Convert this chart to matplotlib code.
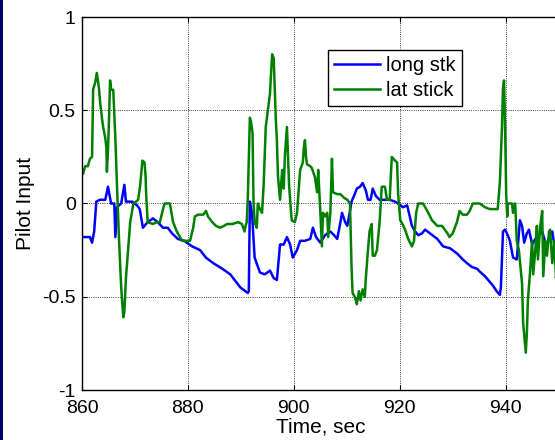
import matplotlib
matplotlib.use('Agg')
import matplotlib.pyplot as plt
from matplotlib.patches import Rectangle

plt.rcParams['font.family'] = ['Liberation Sans', 'DejaVu Sans']

# Longitudinal stick trace
long_t = [860.2, 861.5, 861.9, 862.3, 862.7, 863.4, 864.4, 864.9, 865.5, 866.1,
          866.3, 866.6, 867.4, 868.0, 868.3, 869.5, 870.4, 870.9, 871.5, 872.4,
          873.4, 874.3, 875.3, 876.2, 877.0, 878.1, 879.3, 880.8, 882.3, 883.4,
          884.8, 886.5, 888.0, 889.9, 891.3, 891.5, 891.7, 892.1, 892.6, 893.6,
          894.5, 895.5, 896.2, 896.8, 897.4, 898.1, 898.7, 899.3, 899.8, 900.6,
          901.2, 902.1, 903.1, 903.6, 904.2, 905.0, 905.9, 906.9, 907.6, 908.2,
          908.8, 909.1, 909.7, 910.1, 910.6, 910.9, 911.5, 911.9, 912.5, 913.0,
          913.6, 914.0, 914.5, 914.9, 915.5, 916.2, 917.2, 918.1, 919.1, 919.7,
          920.6, 921.4, 921.9, 922.3, 922.9, 923.5, 924.2, 924.8, 925.7, 927.1,
          928.2, 929.5, 930.9, 931.9, 932.7, 933.6, 934.6, 935.3, 936.1, 937.0,
          937.6, 938.3, 938.9, 939.1, 939.5, 939.9, 940.4, 940.8, 941.4, 942.1,
          942.7, 943.1, 943.5, 944.0, 944.4, 945.0, 945.6, 945.9, 946.5, 946.9,
          947.5, 947.8, 948.2, 948.8, 949.4, 950.0]
long_stk = [-0.18, -0.18, -0.21, -0.15, 0.01, 0.02, 0.02, 0.09, 0.00, 0.00,
            -0.18, -0.02, 0.00, 0.10, 0.01, 0.01, -0.01, -0.03, -0.13, -0.10,
            -0.08, -0.10, -0.13, -0.13, -0.16, -0.19, -0.20, -0.23, -0.25, -0.29,
            -0.32, -0.35, -0.38, -0.45, -0.48, -0.47, 0.01, -0.05, -0.29, -0.37,
            -0.38, -0.36, -0.40, -0.41, -0.22, -0.22, -0.18, -0.22, -0.29, -0.25,
            -0.20, -0.20, -0.19, -0.13, -0.18, -0.21, -0.17, -0.15, -0.17, -0.19,
            -0.10, -0.05, -0.10, -0.12, -0.04, 0.01, 0.05, 0.08, 0.09, 0.11,
            0.07, 0.02, 0.02, 0.08, 0.04, 0.02, 0.02, 0.02, 0.01, 0.00,
            -0.02, -0.01, -0.07, -0.12, -0.15, -0.17, -0.16, -0.14, -0.16, -0.19,
            -0.23, -0.24, -0.27, -0.30, -0.32, -0.34, -0.35, -0.37, -0.39, -0.42,
            -0.44, -0.47, -0.49, -0.45, -0.15, -0.14, -0.17, -0.20, -0.29, -0.30,
            -0.09, -0.12, -0.21, -0.16, -0.14, -0.22, -0.19, -0.20, -0.16, -0.15,
            -0.21, -0.24, -0.18, -0.15, -0.26, -0.22]

# Lateral stick trace
lat_t = [860.2, 860.6, 861.1, 861.5, 861.9, 862.1, 862.5, 862.8, 863.2, 863.4,
         863.8, 864.0, 864.4, 864.6, 864.7, 864.9, 865.1, 865.3, 865.5, 865.9,
         866.3, 866.6, 867.0, 867.4, 867.8, 868.0, 868.3, 868.7, 869.1, 869.7,
         870.2, 870.6, 871.0, 871.4, 871.8, 872.0, 872.1, 872.4, 873.4, 874.1,
         874.7, 875.3, 875.6, 876.6, 877.2, 877.9, 878.9, 879.6, 880.4, 881.0,
         881.3, 881.9, 882.9, 883.4, 883.8, 884.6, 885.3, 886.1, 886.8, 887.4,
         888.4, 889.5, 890.2, 890.7, 890.9, 891.1, 891.3, 891.7, 891.9, 892.2,
         892.4, 892.6, 893.0, 893.2, 893.6, 894.0, 894.3, 894.7, 895.1, 895.5,
         895.9, 896.2, 896.4, 896.6, 896.8, 897.0, 897.4, 897.8, 898.1, 898.3,
         898.7, 898.9, 899.1, 899.3, 899.6, 900.2, 900.6, 901.2, 901.7, 901.9,
         902.1, 902.3, 902.5, 903.1, 903.4, 904.0, 904.4, 904.6, 905.0, 905.3,
         905.5, 905.9, 906.3, 906.5, 906.9, 907.2, 907.4, 908.2, 908.8, 909.5,
         910.1, 910.6, 910.9, 911.1, 911.5, 911.9, 912.3, 912.6, 913.0, 913.4,
         913.6, 914.0, 914.3, 914.7, 914.9, 915.3, 915.7, 916.2, 916.6, 917.2,
         917.6, 918.1, 918.5, 919.1, 919.5, 919.7, 920.1, 920.5, 921.0, 921.6,
         922.3, 922.7, 923.1, 923.5, 924.4, 925.2, 926.1, 927.1, 928.0, 929.0,
         929.4, 930.0, 930.8, 931.3, 931.9, 932.7, 933.2, 933.8, 935.1, 936.1,
         937.0, 938.5, 938.9, 939.3, 939.5, 939.7, 939.9, 940.1, 940.3, 940.4,
         941.2, 941.4, 941.8, 942.1, 942.5, 943.1, 943.3, 943.8, 944.0, 944.2,
         944.6, 945.0, 945.2, 945.6, 945.9, 946.1, 946.5, 946.9, 947.1, 947.5,
         947.8, 948.2, 948.4, 948.8, 949.2, 949.5, 950.0]
lat_stick = [0.16, 0.20, 0.20, 0.24, 0.25, 0.61, 0.65, 0.70, 0.62, 0.55,
             0.45, 0.41, 0.35, 0.30, 0.17, 0.28, 0.45, 0.66, 0.61, 0.61,
             0.35, 0.10, -0.20, -0.45, -0.61, -0.58, -0.40, -0.25, -0.10, 0.00,
             0.01, 0.02, 0.10, 0.23, 0.22, 0.15, 0.06, -0.10, -0.11, -0.10,
             -0.10, -0.03, 0.00, 0.00, -0.10, -0.15, -0.20, -0.20, -0.20, -0.13,
             -0.07, -0.06, -0.06, -0.04, -0.07, -0.10, -0.12, -0.13, -0.12, -0.11,
             -0.11, -0.10, -0.11, -0.15, -0.12, -0.10, 0.02, 0.46, 0.44, 0.38,
             0.00, -0.10, -0.13, 0.00, -0.03, -0.05, 0.10, 0.41, 0.50, 0.59,
             0.80, 0.78, 0.61, 0.45, 0.34, 0.15, 0.02, 0.18, 0.08, 0.25,
             0.41, 0.25, 0.10, 0.02, -0.09, -0.10, -0.05, 0.18, 0.22, 0.30,
             0.34, 0.25, 0.21, 0.20, 0.19, 0.14, 0.06, 0.18, -0.04, -0.23,
             -0.05, -0.07, -0.05, -0.18, -0.05, 0.24, 0.06, 0.05, 0.05, 0.03,
             0.02, 0.00, -0.34, -0.48, -0.50, -0.54, -0.47, -0.52, -0.46, -0.50,
             -0.40, -0.25, -0.15, -0.11, -0.28, -0.28, -0.25, -0.10, 0.09, 0.09,
             0.02, 0.02, 0.25, 0.23, 0.22, 0.05, -0.09, -0.11, -0.14, -0.19,
             -0.23, -0.20, -0.05, 0.00, 0.00, -0.04, -0.09, -0.12, -0.12, -0.16,
             -0.18, -0.16, -0.10, -0.04, -0.06, -0.06, -0.04, 0.00, 0.00, -0.02,
             -0.03, -0.03, 0.11, 0.40, 0.62, 0.66, 0.41, 0.05, -0.07, 0.00,
             0.00, -0.05, 0.00, -0.20, -0.25, -0.43, -0.64, -0.80, -0.70, -0.52,
             -0.37, -0.20, -0.38, -0.25, -0.12, -0.30, -0.13, -0.04, -0.39, -0.20,
             -0.28, -0.15, -0.14, -0.32, -0.20, -0.40, -0.30]

x_ticks = [860, 880, 900, 920, 940]
y_ticks = [-1, -0.5, 0, 0.5, 1]
y_tick_labels = ['-1', '-0.5', '0', '0.5', '1']

fig = plt.figure(figsize=(5.55, 4.4), dpi=100)
# dark stripe along the left edge of the slide
fig.patches.append(Rectangle((0, 0), 3 / 555, 1, transform=fig.transFigure,
                             facecolor='#00006e', edgecolor='none'))

ax = fig.add_axes([82 / 555, 50 / 440, 476.6 / 555, 373 / 440])
ax.plot(long_t, long_stk, color='#0000ff', lw=1.8, label='long stk')
ax.plot(lat_t, lat_stick, color='#008000', lw=1.8, label='lat stick')

ax.set_xlim(860, 950)
ax.set_ylim(-1, 1)
ax.set_xticks(x_ticks)
ax.set_yticks(y_ticks)
ax.set_yticklabels(y_tick_labels)
ax.tick_params(direction='in', length=3.5, width=0.8, labelsize=14,
               top=True, right=True)
ax.tick_params(axis='x', pad=7.5)
ax.tick_params(axis='y', pad=4.5)
ax.grid(True, color='k', linestyle=':', linewidth=0.6)
for s in ax.spines.values():
    s.set_linewidth(1.0)

ax.set_xlabel('Time, sec', fontsize=15, labelpad=0)
ax.set_ylabel('Pilot Input', fontsize=15, labelpad=5)

leg = ax.legend(loc='upper left', bbox_to_anchor=(0.516, 0.9115),
                borderaxespad=0, fancybox=False, framealpha=1,
                edgecolor='k', fontsize=14.5, handlelength=2.3,
                handletextpad=0.3, borderpad=0.3, labelspacing=0.3)
leg.get_frame().set_linewidth(1.0)

fig.savefig('out.png', dpi=100)
